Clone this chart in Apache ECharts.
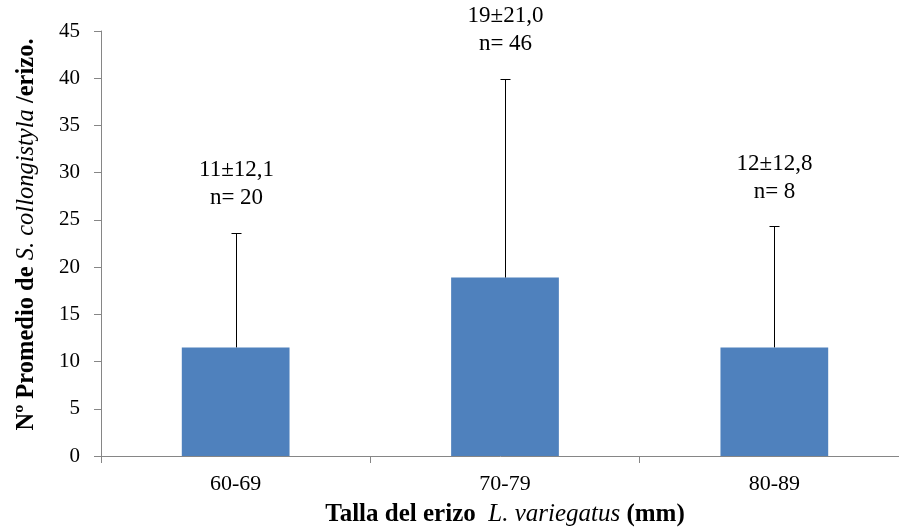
<!DOCTYPE html>
<html><head><meta charset="utf-8">
<script src="https://cdn.jsdelivr.net/npm/echarts@6/dist/echarts.min.js"></script>
<style>html,body{margin:0;padding:0;background:#fff}#c{width:899px;height:527px}</style>
</head><body><div id="c"></div>
<script>
const categories = ['60-69', '70-79', '80-89'];
const means = [11.5, 18.9, 11.5];
const sds = [12.1, 21.0, 12.8];
const meanLabels = ['11±12,1', '19±21,0', '12±12,8'];
const nLabels = ['n= 20', 'n= 46', 'n= 8'];
const yTicks = { min: 0, max: 45, interval: 5 };

const FONT = '"Liberation Serif", "Times New Roman", serif';
const chart = echarts.init(document.getElementById('c'));
chart.setOption({
  animation: false,
  grid: { left: 101, top: 31, bottom: 71, right: -10, containLabel: false, outerBoundsMode: 'none' },
  xAxis: {
    type: 'category', data: categories,
    axisLine: { lineStyle: { color: '#868686', width: 1 } },
    axisTick: { show: true, length: 7, lineStyle: { color: '#868686' } },
    axisLabel: { color: '#000', fontFamily: FONT, fontSize: 22, margin: 17 },
    name: '{b|Talla del erizo  }{i|L. variegatus}{b| (mm)}',
    nameLocation: 'middle', nameGap: 46,
    nameTextStyle: {
      rich: {
        b: { fontFamily: FONT, fontSize: 25, fontWeight: 'bold', color: '#000' },
        i: { fontFamily: FONT, fontSize: 25, fontStyle: 'italic', color: '#000' }
      }
    }
  },
  yAxis: {
    type: 'value', min: yTicks.min, max: yTicks.max, interval: yTicks.interval,
    axisLine: { show: true, lineStyle: { color: '#868686', width: 1 } },
    axisTick: { show: true, length: 7, lineStyle: { color: '#868686' } },
    splitLine: { show: false },
    axisLabel: { color: '#000', fontFamily: FONT, fontSize: 21, margin: 21 },
    name: '{b|Nº Promedio de }{i|S. collongistyla}{b| /erizo.}',
    nameLocation: 'middle', nameGap: 62, nameRotate: 90,
    nameTextStyle: {
      padding: [0, 0, 0, 18],
      rich: {
        b: { fontFamily: FONT, fontSize: 24.5, fontWeight: 'bold', color: '#000' },
        i: { fontFamily: FONT, fontSize: 24.5, fontStyle: 'italic', color: '#000' }
      }
    }
  },
  series: [
    {
      type: 'bar', data: means, barWidth: '40%',
      itemStyle: { color: '#4F81BD' }
    },
    {
      type: 'custom',
      data: means.map((m, i) => [i, m, m + sds[i]]),
      renderItem: function (params, api) {
        const i = api.value(0);
        const base = api.coord([i, api.value(1)]);
        const top = api.coord([i, api.value(2)]);
        const x = Math.round(base[0]) + 0.5;
        const yt = Math.round(top[1]) + 0.5;
        const half = 5;
        return {
          type: 'group',
          children: [
            { type: 'line', shape: { x1: x, y1: base[1], x2: x, y2: yt }, style: { stroke: '#000', lineWidth: 1 } },
            { type: 'line', shape: { x1: x - half, y1: yt, x2: x + half, y2: yt }, style: { stroke: '#000', lineWidth: 1 } },
            { type: 'text', x: x, y: top[1] - 35, style: { text: nLabels[params.dataIndex], font: '23px ' + FONT, fill: '#000', align: 'center', verticalAlign: 'middle' } },
            { type: 'text', x: x, y: top[1] - 63, style: { text: meanLabels[params.dataIndex], font: '23px ' + FONT, fill: '#000', align: 'center', verticalAlign: 'middle' } }
          ]
        };
      },
      z: 5
    }
  ]
});
</script></body></html>
